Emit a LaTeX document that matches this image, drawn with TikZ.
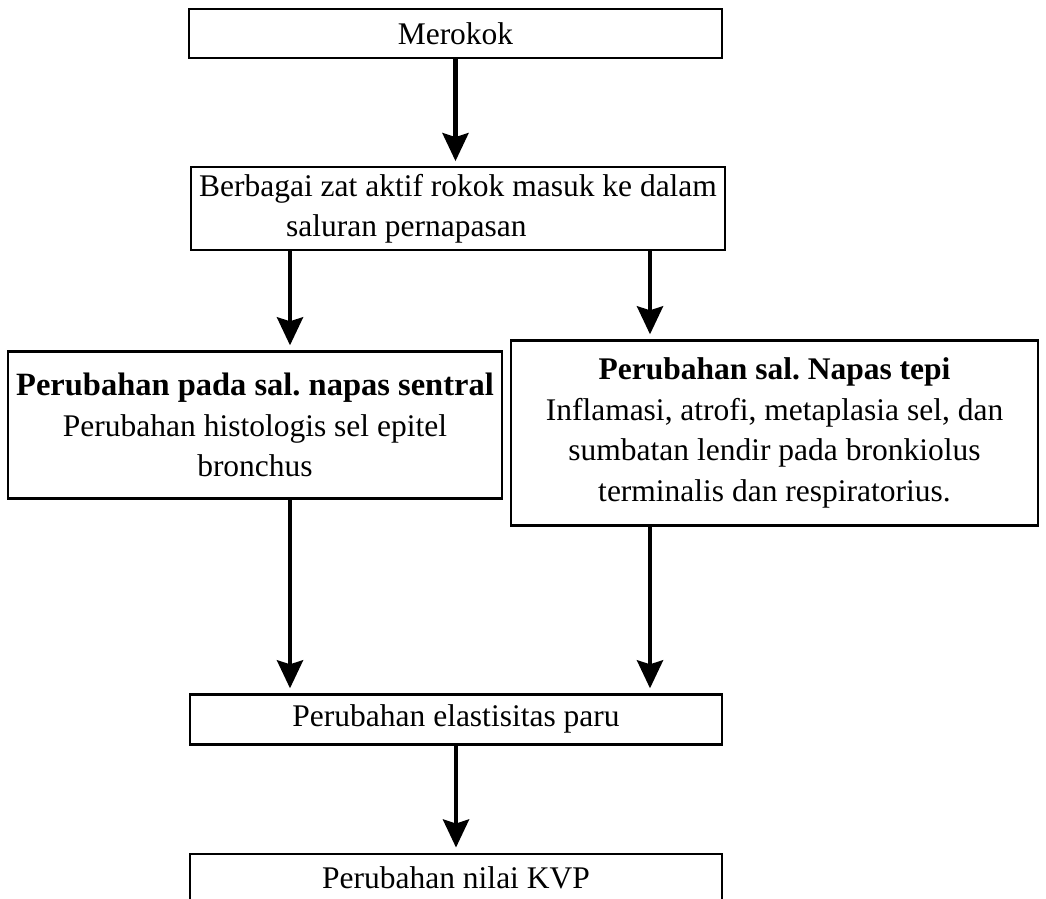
\documentclass[tikz,border=0pt]{standalone}
\usepackage{fontspec}
\setmainfont{Liberation Serif}
\usetikzlibrary{positioning,arrows.meta}
\frenchspacing

\begin{document}
\begin{tikzpicture}[boxnode/.style={rectangle, draw=black, line width=2.2pt, inner sep=3pt, font=\fontsize{31.5}{40.5}\selectfont},
  flowarrow/.style={-{Stealth[length=28pt,width=26pt,inset=4pt]}, line width=4.2pt, shorten >=5pt}]

        \useasboundingbox (0pt,0pt) rectangle (1046pt,-898pt);
        \coordinate (colL) at (290pt,0pt);
        \coordinate (colR) at (650pt,0pt);

        \node[boxnode, minimum width=533pt, minimum height=49pt] (merokok) at (455.5pt,-33.5pt) {Merokok};
        \node[boxnode, minimum width=534pt, minimum height=83pt, align=left] (zat) [below=107pt of merokok, xshift=2.5pt] {Berbagai zat aktif rokok masuk ke dalam\\\hspace*{87pt}saluran pernapasan};
        \node[boxnode, minimum width=494pt, minimum height=147pt, align=center] (sentral) [below=99pt of zat, xshift=-203pt] {{\fontsize{32.5}{40.5}\selectfont\bfseries Perubahan pada sal. napas sentral}\\Perubahan histologis sel epitel\\bronchus};
        \node[boxnode, minimum width=527pt, minimum height=185pt, align=center] (tepi) [below=88pt of zat, xshift=316.5pt] {\textbf{Perubahan sal. Napas tepi}\\Inflamasi, atrofi, metaplasia sel, dan\\sumbatan lendir pada bronkiolus\\terminalis dan respiratorius.};
        \node[boxnode, minimum width=532pt, minimum height=50pt] (elast) [below=442pt of zat, xshift=-2pt] {Perubahan elastisitas paru};
        \node[boxnode, minimum width=532pt, minimum height=49pt] (kvp) [below=107pt of elast] {Perubahan nilai KVP};

        \draw[flowarrow] (merokok.south) -- (merokok.south |- zat.north);
        \draw[flowarrow] (zat.south -| colL) -- (sentral.north -| colL);
        \draw[flowarrow] (zat.south -| colR) -- (tepi.north -| colR);
        \draw[flowarrow] (sentral.south -| colL) -- (elast.north -| colL);
        \draw[flowarrow] (tepi.south -| colR) -- (elast.north -| colR);
        \draw[flowarrow] (elast.south) -- (kvp.north);

\end{tikzpicture}
\end{document}
